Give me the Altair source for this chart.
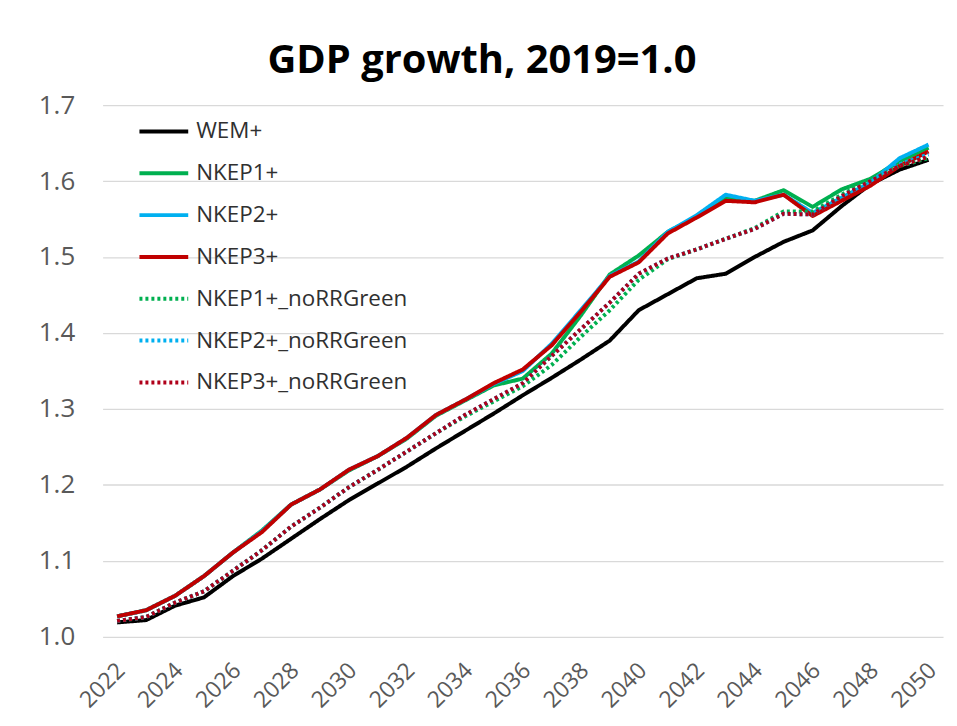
import altair as alt
import pandas as pd

years = list(range(2022, 2051))

series_names = ["WEM+", "NKEP1+", "NKEP2+", "NKEP3+",
                "NKEP1+_noRRGreen", "NKEP2+_noRRGreen", "NKEP3+_noRRGreen"]
series_colors = ["#000000", "#00B050", "#00B0F0", "#C00000",
                 "#00B050", "#00B0F0", "#B0001A"]

wem = [1.019, 1.022, 1.041, 1.052, 1.080, 1.103, 1.129, 1.155, 1.180, 1.202,
       1.224, 1.248, 1.271, 1.294, 1.318, 1.341, 1.365, 1.390, 1.430, 1.451,
       1.472, 1.478, 1.500, 1.520, 1.535, 1.567, 1.596, 1.615, 1.628]
nkep1 = [1.027, 1.035, 1.054, 1.080, 1.111, 1.140, 1.174, 1.194, 1.219, 1.238,
         1.261, 1.291, 1.311, 1.331, 1.340, 1.373, 1.423, 1.477, 1.502, 1.533,
         1.553, 1.577, 1.574, 1.588, 1.566, 1.589, 1.603, 1.626, 1.644]
nkep2 = [1.027, 1.035, 1.054, 1.080, 1.111, 1.139, 1.174, 1.194, 1.220, 1.238,
         1.262, 1.292, 1.312, 1.333, 1.350, 1.386, 1.430, 1.475, 1.494, 1.533,
         1.555, 1.582, 1.574, 1.582, 1.558, 1.578, 1.598, 1.630, 1.648]
nkep3 = [1.027, 1.035, 1.054, 1.080, 1.111, 1.138, 1.174, 1.194, 1.220, 1.238,
         1.262, 1.292, 1.312, 1.334, 1.352, 1.384, 1.428, 1.474, 1.493, 1.531,
         1.552, 1.574, 1.572, 1.582, 1.554, 1.574, 1.594, 1.620, 1.639]
nkep1_nr = [1.021, 1.026, 1.045, 1.060, 1.087, 1.114, 1.145, 1.170, 1.197, 1.220,
            1.244, 1.268, 1.290, 1.310, 1.330, 1.358, 1.395, 1.430, 1.470, 1.497,
            1.510, 1.524, 1.538, 1.560, 1.560, 1.582, 1.602, 1.620, 1.630]
nkep2_nr = [1.021, 1.026, 1.045, 1.060, 1.087, 1.114, 1.145, 1.170, 1.197, 1.220,
            1.244, 1.268, 1.292, 1.313, 1.334, 1.370, 1.405, 1.440, 1.478, 1.498,
            1.510, 1.524, 1.537, 1.557, 1.556, 1.580, 1.600, 1.622, 1.635]
nkep3_nr = [1.021, 1.026, 1.045, 1.060, 1.087, 1.114, 1.145, 1.170, 1.197, 1.220,
            1.244, 1.268, 1.292, 1.313, 1.334, 1.370, 1.405, 1.440, 1.478, 1.498,
            1.510, 1.524, 1.537, 1.557, 1.556, 1.580, 1.600, 1.620, 1.632]

all_values = [wem, nkep1, nkep2, nkep3, nkep1_nr, nkep2_nr, nkep3_nr]
dashes = [[1, 0], [1, 0], [1, 0], [1, 0], [3, 3], [3, 3], [3, 3]]
widths = [4, 4, 4, 4, 3, 3, 3]

rows = []
for name, vals in zip(series_names, all_values):
    for yr, v in zip(years, vals):
        rows.append({"year": yr, "value": v, "series": name})
df = pd.DataFrame(rows)

tick_years = list(range(2022, 2051, 2))
y_ticks = [1.0, 1.1, 1.2, 1.3, 1.4, 1.5, 1.6, 1.7]

FONT = "Open Sans"

chart = alt.Chart(df).mark_line(strokeJoin="round").encode(
    x=alt.X("year:Q",
            scale=alt.Scale(domain=[2021.5, 2050.5], nice=False, zero=False),
            axis=alt.Axis(values=tick_years, format="d", labelAngle=-45,
                          grid=False, domain=False, ticks=False,
                          labelFontSize=23, labelColor="#595959",
                          labelFont=FONT, labelPadding=22, labelOffset=-4,
                          title=None)),
    y=alt.Y("value:Q",
            scale=alt.Scale(domain=[1.0, 1.7], nice=False, zero=False),
            axis=alt.Axis(values=y_ticks, format=".1f", grid=True,
                          gridColor="#D9D9D9", gridWidth=1.3,
                          domain=False, ticks=False, labelFontSize=26,
                          labelColor="#595959", labelFont=FONT,
                          labelPadding=28, title=None)),
    color=alt.Color("series:N",
                    scale=alt.Scale(domain=series_names, range=series_colors),
                    legend=alt.Legend(title=None, orient="none",
                                      legendX=35, legendY=0,
                                      symbolType="stroke", symbolSize=2400,
                                      symbolStrokeWidth=4,
                                      labelFontSize=22.5, labelFont=FONT,
                                      labelColor="#303030", labelLimit=0,
                                      rowPadding=4, labelOffset=6)),
    strokeDash=alt.StrokeDash("series:N",
                              scale=alt.Scale(domain=series_names, range=dashes),
                              legend=None),
    strokeWidth=alt.StrokeWidth("series:N",
                                scale=alt.Scale(domain=series_names, range=widths),
                                legend=None),
).properties(
    width=844, height=534,
    title=alt.TitleParams("GDP growth, 2019=1.0", fontSize=40, fontWeight="bold",
                          font=FONT, color="#000000", anchor="middle",
                          dx=-41, offset=11),
    autosize=alt.AutoSizeParams(type="none"),
    padding={"left": 95, "top": 96, "right": 6, "bottom": 80},
).configure_view(stroke=None)

chart.save("out.html", embed_options={"renderer": "svg", "actions": False})
